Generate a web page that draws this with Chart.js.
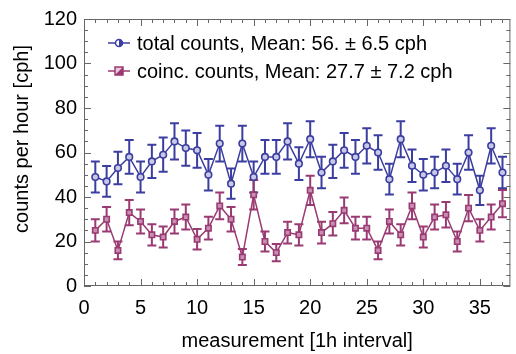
<!DOCTYPE html>
<html>
<head>
<meta charset="utf-8">
<script src="https://cdn.jsdelivr.net/npm/chart.js@4.4.1/dist/chart.umd.min.js"></script>
<style>
  html, body { margin: 0; padding: 0; background: #fff; }
</style>
</head>
<body>
<canvas id="c" width="516" height="354"></canvas>
<script>
// measurement index (1h intervals)
const measurement = [1, 2, 3, 4, 5, 6, 7, 8, 9, 10, 11, 12, 13, 14, 15, 16, 17, 18, 19,
  20, 21, 22, 23, 24, 25, 26, 27, 28, 29, 30, 31, 32, 33, 34, 35, 36, 37];

// total counts per hour and their errors
const totalCounts = [49, 47, 53, 58, 49, 56, 59, 65, 62, 61, 50, 64, 46, 64, 49, 58, 58, 65, 55,
  66, 51, 56, 61, 58, 63, 60, 48, 66, 54, 50, 51, 54, 48, 60, 43, 63, 51];
const totalErr = [7.0, 6.9, 7.3, 7.6, 7.0, 7.5, 7.7, 8.1, 7.9, 7.8, 7.1, 8.0, 6.8, 8.0, 7.0, 7.6, 7.6, 8.1, 7.4,
  8.1, 7.1, 7.5, 7.8, 7.6, 7.9, 7.7, 6.9, 8.1, 7.3, 7.1, 7.1, 7.3, 6.9, 7.7, 6.6, 7.9, 7.1];

// coincidence counts per hour and their errors
const coincCounts = [25, 30, 16, 33, 29, 23, 22, 29, 31, 21, 26, 36, 30, 13, 41, 20, 15, 24, 23,
  43, 24, 28, 34, 26, 26, 16, 29, 23, 36, 22, 31, 32, 20, 35, 25, 31, 37];
const coincErr = [5.0, 5.5, 4.0, 5.7, 5.4, 4.8, 4.7, 5.4, 5.6, 4.6, 5.1, 6.0, 5.5, 3.6, 6.6, 4.5, 3.9, 4.9, 4.8,
  6.6, 4.9, 5.3, 5.8, 5.1, 5.1, 4.0, 5.4, 4.8, 6.0, 4.7, 5.6, 5.7, 4.5, 5.9, 5.0, 5.6, 6.1];

const xTicks = [0, 5, 10, 15, 20, 25, 30, 35];
const yTicks = [0, 20, 40, 60, 80, 100, 120];

const seriesLabels = ['total counts, Mean: 56. \u00b1 6.5 cph', 'coinc. counts, Mean: 27.7 \u00b1 7.2 cph'];

const BLUE = '#3b3ea0';
const RED = '#9a3a72';
const FONT = '"Liberation Sans", Arial, sans-serif';

const toPoints = (xs, ys) => xs.map((x, i) => ({ x, y: ys[i] }));

// error bars, drawn under the markers
const errorBars = {
  id: 'errorBars',
  beforeDatasetsDraw(chart) {
    const { ctx, scales: { x, y } } = chart;
    ctx.save();
    chart.data.datasets.forEach(ds => {
      ctx.strokeStyle = ds.borderColor;
      ctx.lineWidth = 2;
      ds.data.forEach((p, i) => {
        const e = ds.errors[i];
        const px = x.getPixelForValue(p.x);
        const t = y.getPixelForValue(p.y + e);
        const b = y.getPixelForValue(p.y - e);
        ctx.beginPath();
        ctx.moveTo(px, t); ctx.lineTo(px, b);
        ctx.moveTo(px - 4.5, t); ctx.lineTo(px + 4.5, t);
        ctx.moveTo(px - 4.5, b); ctx.lineTo(px + 4.5, b);
        ctx.stroke();
      });
    });
    ctx.restore();
  }
};

// frame with inward ticks, axis titles, legend
const frame = {
  id: 'frame',
  afterDraw(chart) {
    const { ctx, chartArea: a, scales: { x, y } } = chart;
    ctx.save();
    ctx.strokeStyle = '#666';
    ctx.lineWidth = 1;
    ctx.strokeRect(a.left + 0.5, a.top + 0.5, a.right - a.left - 1, a.bottom - a.top - 1);

    ctx.beginPath();
    for (let v = 0; v <= Math.floor(x.max); v++) {
      const px = Math.round(x.getPixelForValue(v)) + 0.5;
      const len = v % 5 === 0 ? 7 : 4;
      ctx.moveTo(px, a.bottom); ctx.lineTo(px, a.bottom - len);
      ctx.moveTo(px, a.top); ctx.lineTo(px, a.top + len);
    }
    for (let v = 0; v <= y.max; v += 5) {
      const py = Math.round(y.getPixelForValue(v)) + 0.5;
      const len = v % 20 === 0 ? 7 : 4;
      ctx.moveTo(a.left, py); ctx.lineTo(a.left + len, py);
      ctx.moveTo(a.right, py); ctx.lineTo(a.right - len, py);
    }
    ctx.stroke();

    // axis titles
    ctx.fillStyle = '#000';
    ctx.font = '20px ' + FONT;
    ctx.textAlign = 'center';
    ctx.textBaseline = 'middle';
    ctx.fillText('measurement [1h interval]', (a.left + a.right) / 2, 341);
    ctx.save();
    ctx.translate(22, 139);
    ctx.rotate(-Math.PI / 2);
    ctx.fillText('counts per hour [cph]', 0, 0);
    ctx.restore();

    // legend
    ctx.textAlign = 'left';
    const rows = [43, 71];
    chart.data.datasets.forEach((ds, i) => {
      const ly = rows[i];
      ctx.strokeStyle = ds.borderColor;
      ctx.lineWidth = 1.5;
      ctx.beginPath();
      ctx.moveTo(108, ly); ctx.lineTo(130, ly);
      ctx.stroke();
      if (i === 0) {
        ctx.fillStyle = '#fff';
        ctx.beginPath(); ctx.arc(119, ly, 3.5, 0, Math.PI * 2); ctx.fill();
        ctx.fillStyle = ds.borderColor;
        ctx.beginPath(); ctx.arc(119, ly, 3.5, -Math.PI / 2, Math.PI / 2); ctx.fill();
        ctx.beginPath(); ctx.arc(119, ly, 3.5, 0, Math.PI * 2); ctx.stroke();
      } else {
        ctx.fillStyle = '#e8c8da';
        ctx.fillRect(115, ly - 4, 8, 8);
        ctx.fillStyle = ds.borderColor;
        ctx.beginPath();
        ctx.moveTo(123, ly - 4); ctx.lineTo(123, ly + 4); ctx.lineTo(115, ly + 4);
        ctx.closePath(); ctx.fill();
        ctx.strokeRect(115, ly - 4, 8, 8);
      }
      ctx.fillStyle = '#000';
      ctx.fillText(ds.label, 137, ly + 1);
    });
    ctx.restore();
  }
};

const tickFont = { family: FONT, size: 20 };

new Chart(document.getElementById('c'), {
  type: 'scatter',
  data: {
    datasets: [
      {
        label: seriesLabels[0],
        data: toPoints(measurement, totalCounts),
        errors: totalErr,
        showLine: true,
        borderColor: BLUE,
        borderWidth: 1.5,
        pointStyle: 'circle',
        pointRadius: 3.3,
        pointBorderWidth: 1.6,
        pointBackgroundColor: '#c9c9e6',
        pointBorderColor: BLUE
      },
      {
        label: seriesLabels[1],
        data: toPoints(measurement, coincCounts),
        errors: coincErr,
        showLine: true,
        borderColor: RED,
        borderWidth: 1.5,
        pointStyle: 'rect',
        pointRadius: 3.8,
        pointBorderWidth: 1.6,
        pointBackgroundColor: '#c98fb0',
        pointBorderColor: RED
      }
    ]
  },
  options: {
    responsive: false,
    animation: false,
    layout: { padding: { top: 19, right: 0, left: 0, bottom: 0 } },
    plugins: {
      legend: { display: false },
      tooltip: { enabled: false }
    },
    scales: {
      x: {
        type: 'linear',
        min: 0,
        max: 37.7,
        grid: { display: false, drawTicks: false },
        border: { display: false },
        afterBuildTicks: s => { s.ticks = xTicks.map(v => ({ value: v })); },
        ticks: { padding: 10, color: '#000', font: tickFont, maxRotation: 0, autoSkip: false },
        afterFit: s => { s.height = 68; }
      },
      y: {
        min: 0,
        max: 120,
        grid: { display: false, drawTicks: false },
        border: { display: false },
        afterBuildTicks: s => { s.ticks = yTicks.map(v => ({ value: v })); },
        ticks: { padding: 7, color: '#000', font: tickFont },
        afterFit: s => { s.width = 84; }
      }
    }
  },
  plugins: [errorBars, frame]
});
</script>
</body>
</html>
